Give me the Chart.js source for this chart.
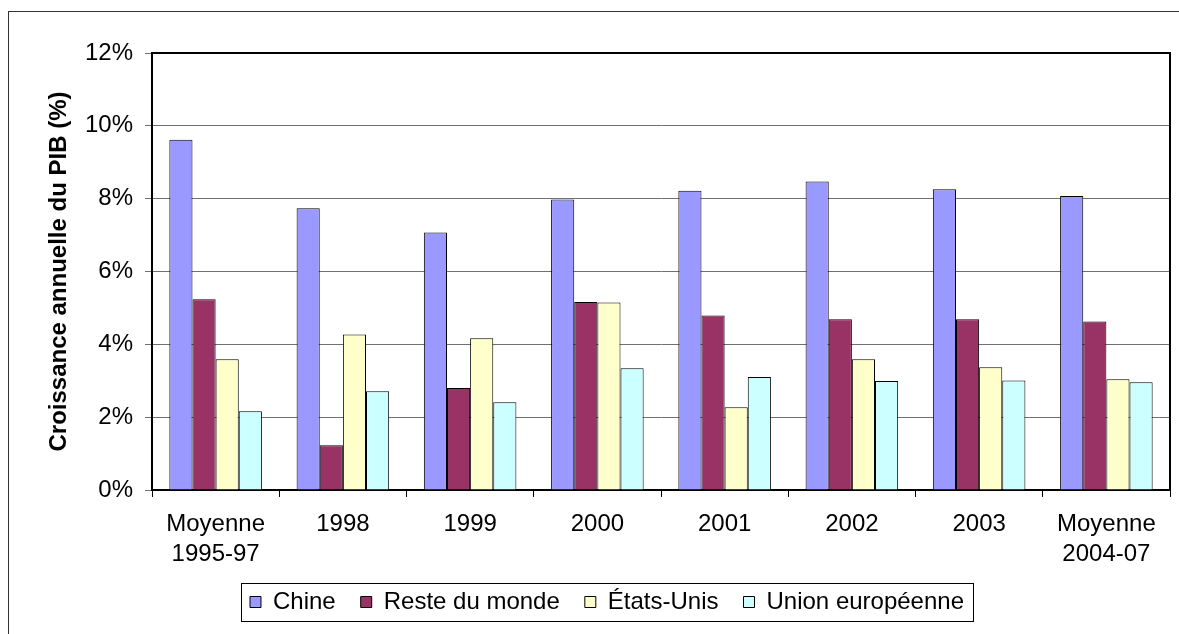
<!DOCTYPE html>
<html lang="fr">
<head>
<meta charset="utf-8">
<title>Croissance annuelle du PIB</title>
<script src="https://cdn.jsdelivr.net/npm/chart.js@4/dist/chart.umd.min.js"></script>
<style>
    html, body {
        margin: 0;
        padding: 0;
        background: #fff;
        overflow: hidden;
    }
    #wrap {
        position: relative;
        width: 1179px;
        height: 634px;
    }
    #frame {
        position: absolute;
        left: 8px;
        top: 11px;
        width: 1300px;
        height: 800px;
        border: 1px solid #333;
    }
    #myChart {
        position: absolute;
        left: 0;
        top: 0;
    }
</style>
</head>
<body>
<div id="wrap">
    <div id="frame"></div>
    <canvas id="myChart" width="1179" height="634"></canvas>
</div>
<script>
// Categories on the x axis
var categories = [["Moyenne", "1995-97"], "1998", "1999", "2000", "2001", "2002", "2003", ["Moyenne", "2004-07"]];

// Series values (annual GDP growth, %)
var chine = [9.62, 7.74, 7.07, 7.98, 8.22, 8.47, 8.26, 8.07];
var resteDuMonde = [5.24, 1.23, 2.80, 5.16, 4.79, 4.69, 4.69, 4.63];
var etatsUnis = [3.59, 4.27, 4.17, 5.15, 2.27, 3.59, 3.37, 3.04];
var unionEuropeenne = [2.16, 2.71, 2.41, 3.34, 3.10, 2.99, 3.01, 2.96];

// Y axis tick values
var yTicks = [0, 2, 4, 6, 8, 10, 12];

document.addEventListener("DOMContentLoaded", function() {
    Chart.defaults.font.family = "'Liberation Sans', Arial, sans-serif";
    Chart.defaults.font.size = 24;
    Chart.defaults.color = "#000";

    // Border on top and right of the plot area
    const plotBorder = {
        id: "plotBorder",
        afterDraw(chart) {
            const a = chart.chartArea;
            const ctx = chart.ctx;
            ctx.save();
            ctx.strokeStyle = "#000";
            ctx.lineWidth = 2;
            ctx.beginPath();
            ctx.moveTo(a.left, a.top);
            ctx.lineTo(a.right, a.top);
            ctx.lineTo(a.right, a.bottom);
            ctx.stroke();
            ctx.restore();
        }
    };

    // Box around the legend
    const legendBox = {
        id: "legendBox",
        afterDraw(chart) {
            const boxes = chart.legend.legendHitBoxes;
            if (!boxes || !boxes.length) return;
            const first = boxes[0];
            const last = boxes[boxes.length - 1];
            const cy = first.top + first.height / 2;
            const ctx = chart.ctx;
            ctx.save();
            ctx.strokeStyle = "#000";
            ctx.lineWidth = 1;
            ctx.strokeRect(Math.round(first.left - 9) + 0.5, Math.round(cy - 19) + 0.5,
                Math.round(last.left + last.width - first.left + 18), 38);
            ctx.restore();
        }
    };

    function makeSet(label, data, color) {
        return {
            label: label,
            data: data,
            backgroundColor: color,
            borderColor: "#000",
            borderWidth: 1,
            categoryPercentage: 4 / 5.5,
            barPercentage: 1
        };
    }

    const ctx = document.getElementById("myChart").getContext("2d");
    const myChart = new Chart(ctx, {
        type: "bar",
        data: {
            labels: categories,
            datasets: [
                makeSet("Chine", chine, "#9999FF"),
                makeSet("Reste du monde", resteDuMonde, "#993366"),
                makeSet("États-Unis", etatsUnis, "#FFFFCC"),
                makeSet("Union européenne", unionEuropeenne, "#CCFFFF")
            ]
        },
        options: {
            responsive: false,
            animation: false,
            layout: {
                padding: { left: 44, right: 9, top: 53, bottom: 10 }
            },
            plugins: {
                tooltip: { enabled: false },
                legend: {
                    position: "bottom",
                    labels: {
                        boxWidth: 11,
                        boxHeight: 11,
                        padding: 25,
                        font: { size: 24 }
                    }
                }
            },
            scales: {
                x: {
                    afterFit: function(scale) { scale.height = 75; },
                    grid: {
                        offset: true,
                        drawOnChartArea: false,
                        color: "#000",
                        tickLength: 7
                    },
                    border: { color: "#000", width: 2 },
                    ticks: {
                        maxRotation: 0,
                        padding: 12,
                        font: { size: 24, lineHeight: 1.25 }
                    }
                },
                y: {
                    min: 0,
                    max: 12,
                    afterFit: function(scale) { scale.width = 108; },
                    afterBuildTicks: function(scale) {
                        scale.ticks = yTicks.map(function(v) { return { value: v }; });
                    },
                    grid: {
                        color: "#707070",
                        tickLength: 7
                    },
                    border: { color: "#000", width: 2 },
                    ticks: {
                        padding: 12,
                        font: { size: 24 },
                        callback: function(v) { return v + "%"; }
                    },
                    title: {
                        display: true,
                        text: "Croissance annuelle du PIB (%)",
                        font: { size: 24, weight: "bold" },
                        padding: 1
                    }
                }
            }
        },
        plugins: [plotBorder, legendBox]
    });
});
</script>
</body>
</html>
